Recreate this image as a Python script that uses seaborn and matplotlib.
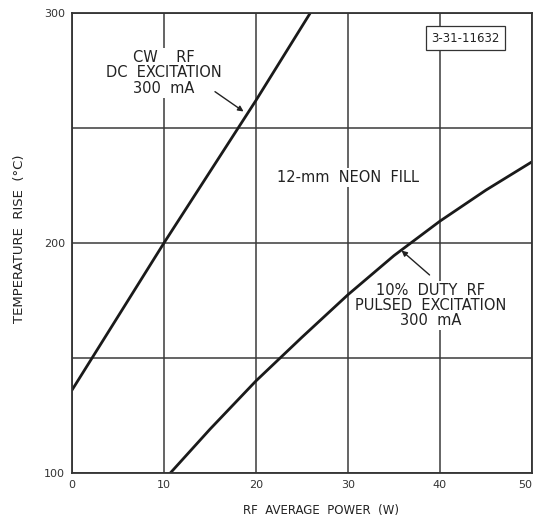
import matplotlib
matplotlib.use("Agg")
import matplotlib.pyplot as plt
import seaborn as sns
import pandas as pd

# curvas
cw_power = [0, 10, 20, 25.9]
cw_rise = [136, 200, 262, 300]

pulsed_power = [10.7, 15, 20, 25, 30, 35, 40, 45, 50]
pulsed_rise = [100, 119, 140, 159, 177.5, 194.5, 209.5, 223, 235.3]

x_ticks = [0, 10, 20, 30, 40, 50]
y_ticks = [100, 150, 200, 250, 300]
y_labels = ['100', '', '200', '', '300']

df_cw = pd.DataFrame({'Potencia': cw_power, 'Aumento': cw_rise})
df_pul = pd.DataFrame({'Potencia': pulsed_power, 'Aumento': pulsed_rise})

sns.set_theme(style="white")
plt.rcParams['font.family'] = ['DejaVu Sans']

fig = plt.figure(figsize=(5.33, 5.22), dpi=100)
ax = fig.add_axes([0.135, 0.094, 0.863, 0.881])

sns.lineplot(x='Potencia', y='Aumento', data=df_cw, color='#1a1a1a', linewidth=2, ax=ax, sort=False)
sns.lineplot(x='Potencia', y='Aumento', data=df_pul, color='#1a1a1a', linewidth=2, ax=ax, sort=False)

ax.set_xlim(0, 50)
ax.set_ylim(100, 300)
ax.set_xticks(x_ticks)
ax.set_yticks(y_ticks)
ax.set_yticklabels(y_labels)
ax.grid(True, color='#3a3a3a', linewidth=1.1)
ax.set_axisbelow(True)
for s in ax.spines.values():
    s.set_color('#333333')
    s.set_linewidth(1.3)
ax.tick_params(length=0, labelsize=8, colors='#333333', pad=5)
ax.get_xticklabels()[-1].set_horizontalalignment('right')

ax.set_xlabel('RF  AVERAGE  POWER  (W)', fontsize=8.5, color='#222222')
ax.xaxis.set_label_coords(0.541, -0.067)
ax.set_ylabel('TEMPERATURE  RISE  (°C)', fontsize=9.5, color='#222222')
ax.yaxis.set_label_coords(-0.10, 0.51)

# textos con fondo blanco que cortan la grilla pero no las curvas
bb = dict(facecolor='white', edgecolor='none', pad=1.5)
ax.text(9.95, 274, 'CW    RF\nDC  EXCITATION\n300  mA', ha='center', va='center',
        fontsize=10.5, linespacing=1.05, color='#222222', bbox=bb, zorder=1.5)
ax.annotate('', xy=(18.9, 256.5), xytext=(15.3, 266.5),
            arrowprops=dict(arrowstyle='-|>', color='#222222', lw=1, mutation_scale=8))

ax.text(30.05, 228.3, '12-mm  NEON  FILL', ha='center', va='center',
        fontsize=10.5, color='#222222', bbox=bb, zorder=1.5)

ax.text(39.0, 173, '10%  DUTY  RF\nPULSED  EXCITATION\n300  mA', ha='center', va='center',
        fontsize=10.5, linespacing=1.0, color='#222222', bbox=bb, zorder=1.5)
ax.annotate('', xy=(35.6, 197.5), xytext=(39.1, 185.3),
            arrowprops=dict(arrowstyle='-|>', color='#222222', lw=1, mutation_scale=8))

ax.text(42.8, 289.1, '3-31-11632', ha='center', va='center', fontsize=8.5, color='#222222',
        bbox=dict(facecolor='white', edgecolor='#333333', boxstyle='square', pad=0.45, lw=0.9))

fig.savefig('out.png', dpi=100)
